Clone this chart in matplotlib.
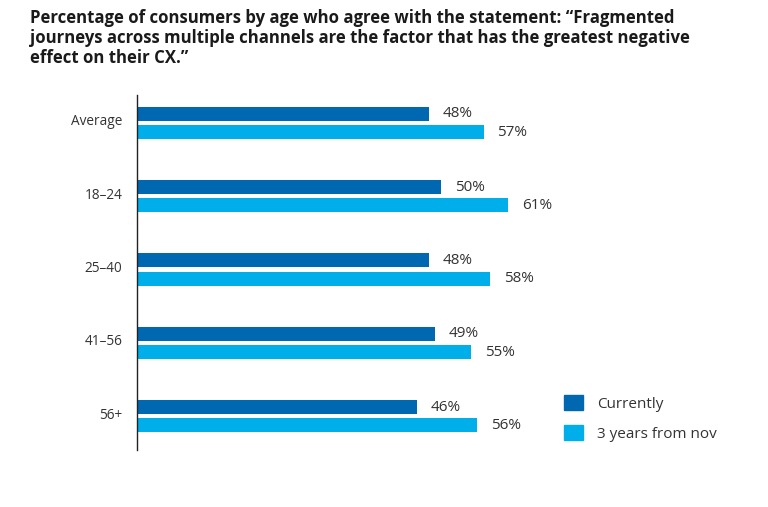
import numpy as np
import matplotlib.pyplot as plt
from matplotlib.patches import Patch

plt.rcParams['font.family'] = ['Open Sans', 'DejaVu Sans']

# Data
groups = ['Average', '18\u201324', '25\u201340', '41\u201356', '56+']
currently = [48, 50, 48, 49, 46]
three_years = [57, 61, 58, 55, 56]
series_names = ['Currently', '3 years from nov']

dark_blue = '#0067b1'
light_blue = '#00afe9'
text_col = '#333333'

fig = plt.figure(figsize=(7.68, 5.07), dpi=100)
ax = fig.add_axes([137 / 768, 1 - 450 / 507, 608 / 768, 355 / 507])

y = np.arange(len(groups))
h = 0.19
off = 0.125
ax.barh(y - off, currently, height=h, color=dark_blue)
ax.barh(y + off, three_years, height=h, color=light_blue)

for yi, v in zip(y, currently):
    ax.text(v + 2.3, yi - off, f'{v}%', va='center', ha='left',
            fontsize=11, color=text_col)
for yi, v in zip(y, three_years):
    ax.text(v + 2.3, yi + off, f'{v}%', va='center', ha='left',
            fontsize=11, color=text_col)

ax.set_xlim(0, 100)
ax.set_ylim(4.46, -0.38)
ax.set_yticks(y - 0.04)
ax.set_yticklabels(groups, fontsize=9.8, color=text_col)
ax.tick_params(axis='y', length=0, pad=10.5)
ax.set_xticks([])
for s in ['top', 'right', 'bottom']:
    ax.spines[s].set_visible(False)
ax.spines['left'].set_color('#222222')
ax.spines['left'].set_linewidth(1.0)

handles = [Patch(color=dark_blue), Patch(color=light_blue)]
fig.legend(handles, series_names, loc='upper left',
           bbox_to_anchor=(550 / 768, 1 - 381 / 507), frameon=False,
           fontsize=11, handlelength=1.25, handleheight=1.2,
           handletextpad=0.95, labelspacing=0.85, labelcolor=text_col)

fig.text(30 / 768, 1 - 9 / 507,
         'Percentage of consumers by age who agree with the statement: \u201cFragmented\n'
         'journeys across multiple channels are the factor that has the greatest negative\n'
         'effect on their CX.\u201d',
         ha='left', va='top', fontsize=12.1, fontweight='bold', color='#1a1a1a',
         linespacing=1.13)

fig.savefig('out.png', dpi=100)
